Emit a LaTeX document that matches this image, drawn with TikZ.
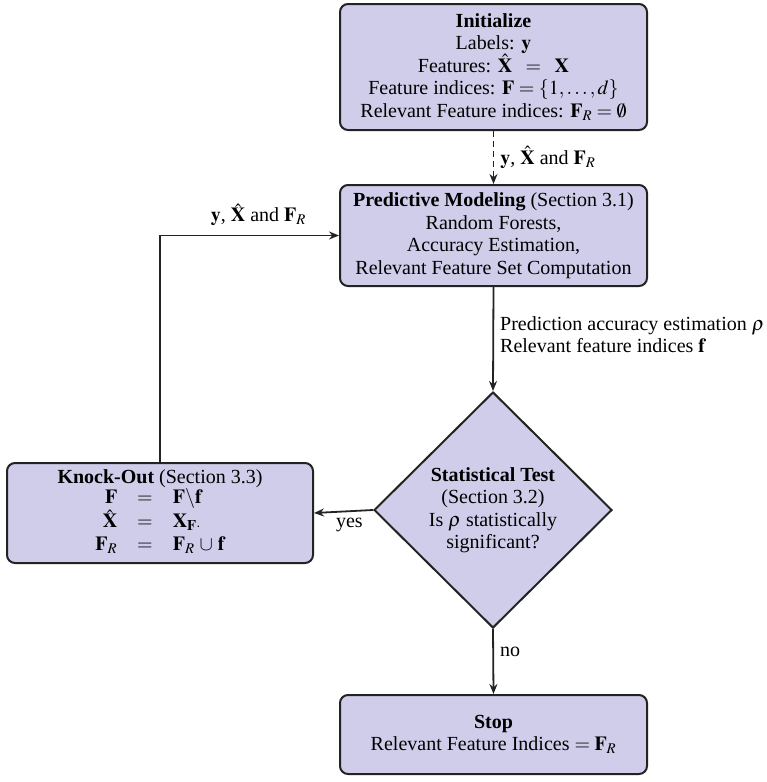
\documentclass[tikz,border=0pt]{standalone}
\usepackage{mathptmx}
\usepackage{fontspec}
\setmainfont{Liberation Serif}
\usetikzlibrary{shapes.geometric,arrows.meta}
\definecolor{boxfill}{RGB}{208,205,234}
\definecolor{edge}{RGB}{35,35,35}
\tikzset{
  stepbox/.style={draw=edge, line width=2pt, fill=boxfill, rounded corners=8pt, align=center, inner sep=0pt},
  testbox/.style={draw=edge, line width=2pt, fill=boxfill, diamond, align=center, inner sep=0pt, aspect=1},
  conn/.style={draw=edge, line width=1.8pt, -{Stealth[length=10pt,width=8pt]}},
  lbl/.style={inner sep=0pt, align=left}
}
\begin{document}
\begin{tikzpicture}[x=1pt,y=-1pt,font=\fontsize{20}{22.5}\selectfont]
\useasboundingbox (0,0) rectangle (767,782);
\node[stepbox, minimum width=307pt, minimum height=126pt] (init) at (493.5,67)
  {\textbf{Initialize}\\
   Labels: $\mathbf{y}$\\
   Features: $\hat{\mathbf{X}}\;\;=\;\;\mathbf{X}$\\
   Feature indices: $\mathbf{F}=\{1,\ldots,d\}$\\
   Relevant Feature indices: $\mathbf{F}_R=\emptyset$};
\node[stepbox, minimum width=307pt, minimum height=101pt] (pred) at (493.5,235.5)
  {\textbf{Predictive Modeling} (Section 3.1)\\
   Random Forests,\\
   Accuracy Estimation,\\
   Relevant Feature Set Computation};
\node[testbox, minimum width=238pt, minimum height=236pt] (test) at (493,510)
  {\textbf{Statistical Test}\\
   (Section 3.2)\\
   Is $\rho$ statistically\\
   significant?};
\node[stepbox, minimum width=306pt, minimum height=100pt] (ko) at (160,513)
  {\textbf{Knock-Out} (Section 3.3)\\[-1pt]
   $\begin{array}{r@{\quad}c@{\quad}l}
    \mathbf{F} & = & \mathbf{F}\backslash\mathbf{f}\\
    \hat{\mathbf{X}} & = & \mathbf{X}_{\mathbf{F}\cdot}\\
    \mathbf{F}_R & = & \mathbf{F}_R\,\cup\,\mathbf{f}
   \end{array}$};
\node[stepbox, minimum width=307pt, minimum height=79pt] (stop) at (493.5,734.5)
  {\textbf{Stop}\\
   Relevant Feature Indices $=\mathbf{F}_R$};
\coordinate (bend) at (ko.north |- pred.west);
\draw[conn, dash pattern=on 6pt off 4pt] (init.south) -- node[lbl, right=6pt] {$\mathbf{y}$, $\hat{\mathbf{X}}$ and $\mathbf{F}_R$} (pred.north);
\draw[conn] (ko.north) -- (bend) -- node[lbl, above=9pt, pos=0.55] {$\mathbf{y}$, $\hat{\mathbf{X}}$ and $\mathbf{F}_R$} (pred.west);
\draw[conn] (pred.south) -- (test.north);
\node[lbl, anchor=north west] (predlbl) at (500,316) {Prediction accuracy estimation $\rho$\\Relevant feature indices $\mathbf{f}$};
\draw[conn] (test.west) -- node[lbl, below=6pt, pos=0.4] {yes} (ko.east);
\draw[conn] (test.south) -- node[lbl, right=6pt, pos=0.35] {no} (stop.north);
\end{tikzpicture}
\end{document}
